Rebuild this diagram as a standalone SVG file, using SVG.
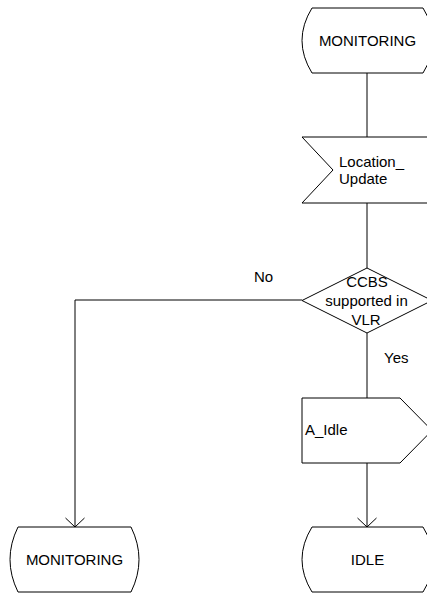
<svg xmlns="http://www.w3.org/2000/svg" width="427" height="593" viewBox="0 0 427 593">
<style>
.s{fill:#fff;stroke:#000;stroke-width:1}
.c{fill:none;stroke:#000;stroke-width:1}
text{font-family:"Liberation Sans",Arial,sans-serif;font-size:15px;fill:#000}
.m{text-anchor:middle}
</style>
<defs>
<marker id="arr" markerWidth="22" markerHeight="12" refX="10" refY="10" orient="auto" markerUnits="userSpaceOnUse" viewBox="0 0 22 12">
<path d="M0.5,1 L10,10 L19.5,1" fill="none" stroke="#000" stroke-width="1"/>
</marker>
</defs>
<g id="connectors">
<path class="c" d="M367,73 L367,137"/>
<path class="c" d="M367,203 L367,268"/>
<path class="c" d="M367,333 L367,398"/>
<path class="c" d="M367,463 L367,527"/>
<path class="c" d="M357.5,518 L367,527 L376.5,518"/>
<path class="c" d="M302,300 L75,300 L75,527"/>
<path class="c" d="M65.5,518 L75,527 L84.5,518"/>
<text x="254" y="282">No</text>
<text x="384" y="363">Yes</text>
</g>
<g id="monitoring_top">
<path class="s" d="M312,8 L423,8 Q443,40.5 423,73 L312,73 Q292,40.5 312,8 Z"/>
<text class="m" x="367.5" y="46">MONITORING</text>
</g>
<g id="location_update">
<path class="s" d="M302,137 L432,137 L432,203 L302,203 L333,170 Z"/>
<text x="339" y="167">Location_</text>
<text x="339" y="184">Update</text>
</g>
<g id="ccbs_decision">
<path class="s" d="M367,268 L432,300.5 L367,333 L302,300.5 Z"/>
<text class="m" x="367" y="287">CCBS</text>
<text class="m" x="366.5" y="306">supported in</text>
<text class="m" x="366" y="325">VLR</text>
</g>
<g id="a_idle">
<path class="s" d="M302,398 L400,398 L432,430.5 L400,463 L302,463 Z"/>
<text x="305" y="435">A_Idle</text>
</g>
<g id="idle">
<path class="s" d="M312,527 L423,527 Q443,559.5 423,592 L312,592 Q292,559.5 312,527 Z"/>
<text class="m" x="367.5" y="565">IDLE</text>
</g>
<g id="monitoring_bottom">
<path class="s" d="M18,527 L131,527 Q147,559.5 131,592 L18,592 Q2,559.5 18,527 Z"/>
<text class="m" x="74.5" y="565">MONITORING</text>
</g>
</svg>
